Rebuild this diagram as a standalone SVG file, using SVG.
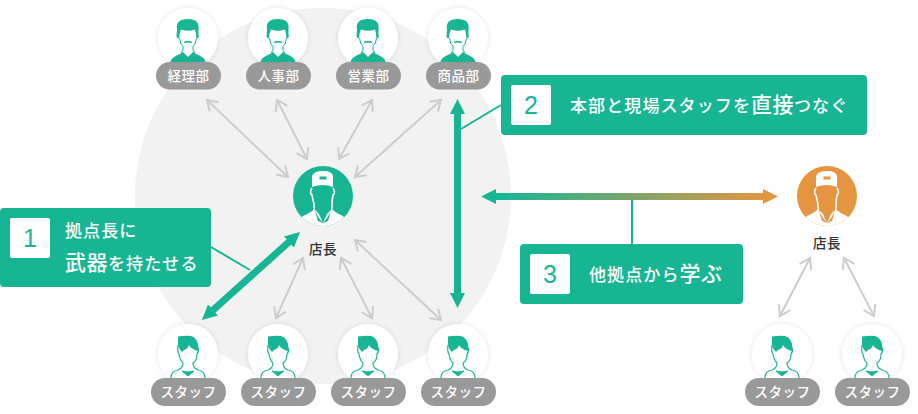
<svg xmlns="http://www.w3.org/2000/svg" width="918" height="414" viewBox="0 0 918 414">
<style>
text{font-family:"Noto Sans CJK JP","Noto Sans",sans-serif}
.pill{fill:#999}
.pt{fill:#fff;font-size:13.500px;letter-spacing:.5px;text-anchor:middle;font-weight:500}
.mt{fill:#333;font-size:13.500px;letter-spacing:.5px;text-anchor:middle;font-weight:500}
.box{fill:#18b595}
.sq{fill:#fff}
.num{fill:#18b595;font-size:25px;text-anchor:middle;font-family:"Liberation Sans",sans-serif}
.bt{fill:#fff;font-size:17px;font-weight:500;letter-spacing:1.100px}
.big{font-size:21px;letter-spacing:.5px}
.g{fill:none;stroke:#ccc;stroke-width:2;marker-start:url(#oa);marker-end:url(#oa)}
.lead{fill:none;stroke:#18b595;stroke-width:2}
.thick{fill:none;stroke:#18b595;stroke-width:7;marker-start:url(#fa);marker-end:url(#fa)}
.disc{fill:#fff;filter:url(#sh)}
</style>
<defs>
<filter id="sh" x="-20%" y="-20%" width="140%" height="140%"><feDropShadow dx="0" dy="0" stdDeviation="2.500" flood-color="#000" flood-opacity=".12"/></filter>
<marker id="oa" markerUnits="userSpaceOnUse" viewBox="-13 -9 15 18" refX="0" refY="0" markerWidth="15" markerHeight="18" orient="auto-start-reverse"><path d="M-10,-6.500L0,0L-10,6.500" fill="none" stroke="#ccc" stroke-width="2"/></marker>
<marker id="fa" markerUnits="userSpaceOnUse" viewBox="-15 -8 15 16" refX="-14" refY="0" markerWidth="15" markerHeight="16" orient="auto-start-reverse"><path d="M-15,-7.500L0,0L-15,7.500Z" fill="#18b595"/></marker>
<linearGradient id="grad" gradientUnits="userSpaceOnUse" x1="500" y1="0" x2="770" y2="0"><stop offset="0" stop-color="#18b595"/><stop offset="1" stop-color="#e59540"/></linearGradient>
<clipPath id="cc"><circle r="30"/></clipPath>
<g id="exec">
<circle class="disc" r="30"/>
<path d="M-18,32V25Q-17,19-7,15.500L-4,13H4L7,15.500Q17,19 18,25V32Z" fill="#18b595"/>
<path d="M-5,14L0,19L5,14L3,10.500H-3Z" fill="#fff"/>
<path d="M-1.500,19H1.500L2.500,30H-2.500Z" fill="#18b595"/>
<path d="M-11,-8Q-13,-19 0,-19Q12,-19 10.500,-8L10.500,-3L11,-1.500Q10,1 8.500,0Q8,-5 7,-8.500Q0,-6-7,-8.500Q-9,-5-9,0Q-10.500,1-11.500,-1.500Z" fill="#18b595"/>
<path d="M-8.500,0Q-8,6-5,8.500V12L-7,15M8.500,0Q8,6 5,8.500V12L7,15" fill="none" stroke="#18b595" stroke-width="1"/>
<path d="M-4,4.500Q-2,2.500 0,3.500Q2,2.500 4,4.500Q0,3.800-4,4.500Z" fill="#18b595" stroke="#18b595" stroke-width=".8"/>
</g>
<g id="staff">
<circle class="disc" r="30"/>
<path d="M-10,-17.500Q-3,-18.500 3,-18Q10,-16 10.500,-6L10,-3Q3,-5 1,-9Q0,-5-4,-4L-6,-2Q-10,-6-10,-10Z" fill="#18b595"/>
<path d="M-10,-9Q-11,-2-9,0Q-8,7-5,9Q-5,14-10,16Q-17,17-17,24M10.500,-6Q11,-2 9,0Q9,7 5,9Q5,14 10,16Q17,17 17,24" fill="none" stroke="#18b595" stroke-width="1.200"/>
<path d="M-6,17L0,22L6,17Q0,19-6,17Z" fill="#18b595" stroke="#18b595"/>
</g>
<g id="mgr">
<circle r="30" fill="currentColor"/>
<g clip-path="url(#cc)">
<path d="M-27,30L-20,20Q-13,17-10,14L-9,11H9L10,14Q13,17 20,20L27,30V32H-27Z" fill="#fff"/>
<path d="M-8,9H8V14L4,18L0,27L-4,18L-8,14Z" fill="currentColor"/>
<path d="M-8,15L-4,22L0,27L-5,25Z M8,15L4,22L0,27L5,25Z" fill="currentColor"/>
</g>
<path d="M-11,-9V-20Q-9,-25 0,-25Q9,-25 10,-20V-9Q0,-13-11,-9Z" fill="#fff"/>
<rect x="-3.500" y="-19.500" width="7" height="3" fill="currentColor"/>
<path d="M-11,-8Q-14,-3-11,-1Q-10,4-9,8L-9,12M10,-8Q13,-3 10,-1Q9,4 9,8L9,12" fill="none" stroke="#fff" stroke-width="1.600"/>
</g>
</defs>
<rect width="918" height="414" fill="#fff"/>
<circle id="bg" cx="323" cy="196" r="188" fill="#f2f2f2"/>
<g id="connectors">
<path class="g" d="M207,100L288,177"/>
<path class="g" d="M277,100L307,159"/>
<path class="g" d="M372,100L339,159"/>
<path class="g" d="M441,100L355,177"/>
<path class="g" d="M303,258L276,318"/>
<path class="g" d="M341,258L372,318"/>
<path class="g" d="M355,240L441,320"/>
<path class="g" d="M810,258L780,316"/>
<path class="g" d="M844,258L874,316"/>
<path class="lead" d="M211,247L250,270"/>
<path class="lead" d="M461,129L501,105"/>
<path class="lead" d="M632,198V244"/>
<path class="thick" d="M289.600,241.400L212.400,310.600"/>
<path class="thick" d="M457.500,113V294"/>
<path d="M481,196.500L496,189V193H763V189L778,196.500L763,204V200H496V204Z" fill="url(#grad)"/>
</g>
<g id="keiri"><use href="#exec" x="188" y="38"/><rect class="pill" x="156" y="62" width="65" height="27.500" rx="13.700"/><text class="pt" x="188.500" y="81">経理部</text></g>
<g id="jinji"><use href="#exec" x="278" y="38"/><rect class="pill" x="246" y="62" width="65" height="27.500" rx="13.700"/><text class="pt" x="278.500" y="81">人事部</text></g>
<g id="eigyo"><use href="#exec" x="368" y="38"/><rect class="pill" x="336" y="62" width="65" height="27.500" rx="13.700"/><text class="pt" x="368.500" y="81">営業部</text></g>
<g id="shohin"><use href="#exec" x="458" y="38"/><rect class="pill" x="426" y="62" width="65" height="27.500" rx="13.700"/><text class="pt" x="458.500" y="81">商品部</text></g>
<g id="mgr1"><use href="#mgr" x="323" y="196" style="color:#18b595"/><text class="mt" x="323" y="254">店長</text></g>
<g id="mgr2"><use href="#mgr" x="827" y="196" style="color:#e59540"/><text class="mt" x="827" y="248">店長</text></g>
<g id="s1"><use href="#staff" x="188" y="354"/><rect class="pill" x="151" y="378" width="75" height="28" rx="14"/><text class="pt" x="188.500" y="397">スタッフ</text></g>
<g id="s2"><use href="#staff" x="278" y="354"/><rect class="pill" x="241" y="378" width="75" height="28" rx="14"/><text class="pt" x="278.500" y="397">スタッフ</text></g>
<g id="s3"><use href="#staff" x="368" y="354"/><rect class="pill" x="331" y="378" width="75" height="28" rx="14"/><text class="pt" x="368.500" y="397">スタッフ</text></g>
<g id="s4"><use href="#staff" x="458" y="354"/><rect class="pill" x="421" y="378" width="75" height="28" rx="14"/><text class="pt" x="458.500" y="397">スタッフ</text></g>
<g id="s5"><use href="#staff" x="782" y="354"/><rect class="pill" x="745" y="378" width="75" height="28" rx="14"/><text class="pt" x="782.500" y="397">スタッフ</text></g>
<g id="s6"><use href="#staff" x="872" y="354"/><rect class="pill" x="835" y="378" width="75" height="28" rx="14"/><text class="pt" x="872.500" y="397">スタッフ</text></g>
<g id="box1"><rect class="box" y="208" width="211" height="79" rx="4"/><rect class="sq" x="10" y="218" width="40" height="40" rx="2"/><text class="num" x="30" y="247">1</text><text class="bt" x="65" y="237">拠点長に</text><text class="bt" x="65" y="270"><tspan class="big">武器</tspan>を持たせる</text></g>
<g id="box2"><rect class="box" x="501" y="75" width="366" height="60" rx="4"/><rect class="sq" x="511" y="85" width="40" height="40" rx="2"/><text class="num" x="531" y="114">2</text><text class="bt" x="570" y="112">本部と現場スタッフを<tspan class="big">直接</tspan>つなぐ</text></g>
<g id="box3"><rect class="box" x="520" y="244" width="223" height="60" rx="4"/><rect class="sq" x="530" y="254" width="40" height="40" rx="2"/><text class="num" x="550" y="283">3</text><text class="bt" x="589" y="281">他拠点から<tspan class="big">学ぶ</tspan></text></g>
</svg>
